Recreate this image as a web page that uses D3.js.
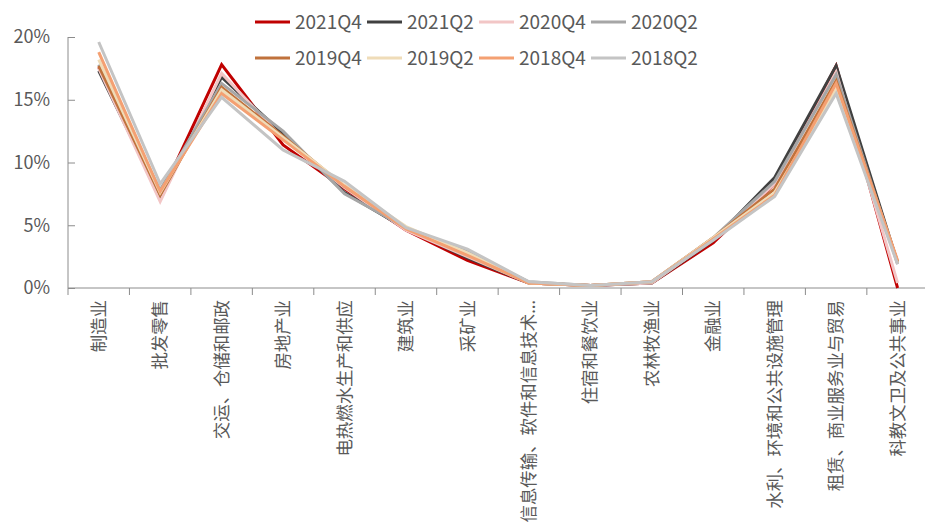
<!DOCTYPE html>
<html lang="zh">
<head>
  <meta charset="UTF-8">
  <title>行业占比</title>
  <script src="https://cdn.jsdelivr.net/npm/d3@7/dist/d3.min.js"></script>
  <style>
    body { margin: 0; background: #fff; }
    text { font-family: "Noto Sans CJK SC", "Noto Sans", sans-serif; fill: #595959; }
  </style>
</head>
<body>
  <script>
    const categories = ['制造业', '批发零售', '交运、仓储和邮政', '房地产业', '电热燃水生产和供应', '建筑业', '采矿业',
      '信息传输、软件和信息技术…', '住宿和餐饮业', '农林牧渔业', '金融业', '水利、环境和公共设施管理',
      '租赁、商业服务业与贸易', '科教文卫及公共事业']
    const seriesNames = ['2021Q4', '2021Q2', '2020Q4', '2020Q2', '2019Q4', '2019Q2', '2018Q4', '2018Q2']
    const s2021Q4 = [17.6, 7.3, 17.8, 11.4, 7.9, 4.6, 2.2, 0.4, 0.2, 0.4, 3.6, 8.3, 17.7, 0.0]
    const s2021Q2 = [17.3, 7.3, 16.8, 12.3, 7.6, 4.7, 2.4, 0.4, 0.2, 0.4, 3.8, 8.8, 17.7, 2.0]
    const s2020Q4 = [17.5, 6.9, 17.1, 11.9, 8.0, 4.6, 2.5, 0.4, 0.2, 0.4, 3.9, 8.3, 17.2, 0.4]
    const s2020Q2 = [17.8, 7.8, 16.3, 12.5, 7.5, 4.8, 2.9, 0.5, 0.2, 0.5, 4.0, 8.5, 17.0, 1.9]
    const s2019Q4 = [17.7, 7.4, 16.0, 12.1, 8.1, 4.8, 2.7, 0.4, 0.2, 0.5, 4.0, 7.9, 16.5, 2.1]
    const s2019Q2 = [18.2, 7.6, 15.8, 12.0, 8.2, 4.9, 2.8, 0.4, 0.2, 0.5, 4.0, 7.6, 15.8, 2.0]
    const s2018Q4 = [18.8, 7.7, 15.5, 11.8, 8.1, 4.7, 2.6, 0.4, 0.2, 0.5, 3.9, 7.4, 16.3, 2.2]
    const s2018Q2 = [19.6, 8.3, 15.2, 11.0, 8.5, 4.8, 3.1, 0.5, 0.2, 0.5, 3.8, 7.3, 15.5, 1.9]
    const yTicks = [0, 5, 10, 15, 20]

    const values = [s2021Q4, s2021Q2, s2020Q4, s2020Q2, s2019Q4, s2019Q2, s2018Q4, s2018Q2]
    const colors = ['#c00000', '#404040', '#f2c6c6', '#a6a6a6', '#c0723c', '#efdcb8', '#f4a072', '#c4c4c4']

    const W = 925, H = 522
    const mLeft = 68, mTop = 37, mBottom = 288

    const svg = d3.select('body').append('svg')
      .attr('width', W).attr('height', H)

    const x = d3.scaleBand().domain(categories).range([mLeft, mLeft + 61.45 * 14]).padding(0)
    const y = d3.scaleLinear().domain([0, 20]).range([mBottom, mTop])
    const cx = c => x(c) + x.bandwidth() / 2

    // y 轴
    const yAxis = d3.axisLeft(y).tickValues(yTicks).tickSize(-7).tickPadding(18).tickFormat(d => d + '%')
    const gy = svg.append('g').attr('transform', `translate(${mLeft},0)`).call(yAxis)
    gy.select('.domain').attr('stroke', '#8c8c8c').attr('d', `M0,${mTop}V${mBottom}`)
    gy.selectAll('.tick line').attr('stroke', '#8c8c8c')
    gy.selectAll('.tick text').attr('font-size', 18).attr('fill', '#595959')
      .style('font-family', '"Noto Sans CJK SC", sans-serif')

    // x 轴
    const gx = svg.append('g')
    gx.append('line').attr('x1', mLeft).attr('x2', W).attr('y1', mBottom).attr('y2', mBottom).attr('stroke', '#8c8c8c')
    gx.selectAll('.xt').data(categories).join('line')
      .attr('x1', d => x(d)).attr('x2', d => x(d))
      .attr('y1', mBottom).attr('y2', mBottom + 7).attr('stroke', '#8c8c8c')
    const xl = gx.selectAll('.xl').data(categories).join('text')
      .attr('transform', d => `translate(${cx(d)},${mBottom + 12}) rotate(-90)`)
      .attr('text-anchor', 'end').attr('dy', '0.35em')
      .attr('font-size', 17.4)
    // 省略号用窄字形
    xl.append('tspan').text(d => d.replace('…', ''))
    xl.filter(d => d.includes('…')).append('tspan')
      .style('font-family', '"Noto Sans", sans-serif').text('…')

    // 折线
    const line = d3.line().x((d, i) => cx(categories[i])).y(d => y(d))
    svg.append('g').selectAll('path').data(values).join('path')
      .attr('d', d => line(d))
      .attr('fill', 'none')
      .attr('stroke', (d, i) => colors[i])
      .attr('stroke-width', 3)
      .attr('stroke-linejoin', 'miter')

    // 图例
    const lg = svg.append('g').selectAll('g').data(seriesNames).join('g')
      .attr('transform', (d, i) => `translate(${255 + (i % 4) * 112},${i < 4 ? 22 : 58})`)
    lg.append('line').attr('x1', 0).attr('x2', 35).attr('y1', 0).attr('y2', 0)
      .attr('stroke', (d, i) => colors[i]).attr('stroke-width', 3)
    lg.append('text').attr('x', 40).attr('dy', '0.35em').attr('font-size', 19).text(d => d)
  </script>
</body>
</html>
